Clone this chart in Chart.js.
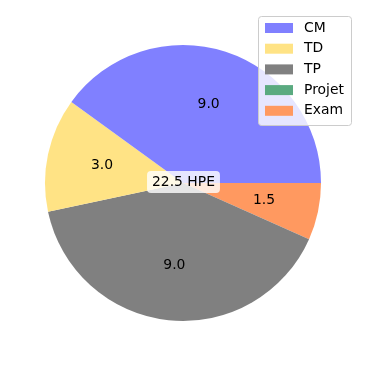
<!DOCTYPE html>
<html><head><meta charset="utf-8">
<script src="https://cdn.jsdelivr.net/npm/chart.js@4.4.0/dist/chart.umd.min.js"></script>
<style>html,body{margin:0;padding:0;background:#fff}#wrap{width:366px;height:366px}</style>
</head><body><div id="wrap"><canvas id="c" width="366" height="366"></canvas></div>
<script>
const categories = ["CM", "TD", "TP", "Projet", "Exam"];
const values = [9.0, 3.0, 9.0, 0.0, 1.5];
const colors = ["#8080ff", "#ffe385", "#808080", "#5aaa80", "#ff9960"];
const centerLabel = "22.5 HPE";

// matplotlib draws counter-clockwise from 3 o'clock; Chart.js draws clockwise, so reverse
const revCats = categories.slice().reverse();
const revVals = values.slice().reverse();
const revCols = colors.slice().reverse();
const FONT = '13.9px "DejaVu Sans"';

function roundRect(ctx, x, y, w, h, r) {
  ctx.beginPath();
  ctx.moveTo(x + r, y);
  ctx.lineTo(x + w - r, y); ctx.quadraticCurveTo(x + w, y, x + w, y + r);
  ctx.lineTo(x + w, y + h - r); ctx.quadraticCurveTo(x + w, y + h, x + w - r, y + h);
  ctx.lineTo(x + r, y + h); ctx.quadraticCurveTo(x, y + h, x, y + h - r);
  ctx.lineTo(x, y + r); ctx.quadraticCurveTo(x, y, x + r, y);
  ctx.closePath();
}

const overlay = {
  id: 'overlay',
  afterDatasetsDraw(chart) {
    const ctx = chart.ctx;
    const meta = chart.getDatasetMeta(0);
    ctx.save();
    ctx.font = FONT;
    ctx.fillStyle = '#000';
    ctx.textAlign = 'center';
    ctx.textBaseline = 'middle';
    meta.data.forEach((arc, i) => {
      const v = revVals[i];
      if (!v) return;
      const p = arc.getProps(['x', 'y', 'startAngle', 'endAngle', 'outerRadius'], true);
      const a = (p.startAngle + p.endAngle) / 2;
      const r = p.outerRadius * 0.6;
      ctx.fillText(v.toFixed(1), p.x + r * Math.cos(a), p.y + r * Math.sin(a));
    });
    // center label
    const c = meta.data[0];
    const cx = c.x + 0.5, cy = c.y - 1;
    const tw = ctx.measureText(centerLabel).width;
    const bw = tw + 10, bh = 22;
    ctx.fillStyle = 'rgba(255,255,255,0.8)';
    roundRect(ctx, cx - bw / 2, cy - bh / 2, bw, bh, 4);
    ctx.fill();
    ctx.fillStyle = '#000';
    ctx.fillText(centerLabel, cx, cy);

    // legend
    const lx = 258, ly = 16, lw = 93, lh = 109;
    ctx.fillStyle = 'rgba(255,255,255,0.8)';
    roundRect(ctx, lx + 0.5, ly + 0.5, lw, lh, 3);
    ctx.fill();
    ctx.strokeStyle = '#cccccc';
    ctx.lineWidth = 1;
    ctx.stroke();
    ctx.textAlign = 'left';
    categories.forEach((name, i) => {
      const yc = 28 + i * 20.7;
      ctx.fillStyle = colors[i];
      ctx.fillRect(265, yc - 5, 28, 10);
      ctx.fillStyle = '#000';
      ctx.fillText(name, 304, yc);
    });
    ctx.restore();
  }
};

new Chart(document.getElementById('c'), {
  type: 'pie',
  data: {
    labels: revCats,
    datasets: [{ data: revVals, backgroundColor: revCols, borderWidth: 0 }]
  },
  options: {
    responsive: false,
    animation: false,
    rotation: 90,
    layout: { padding: 45 },
    plugins: { legend: { display: false }, tooltip: { enabled: false } }
  },
  plugins: [overlay]
});
</script></body></html>
